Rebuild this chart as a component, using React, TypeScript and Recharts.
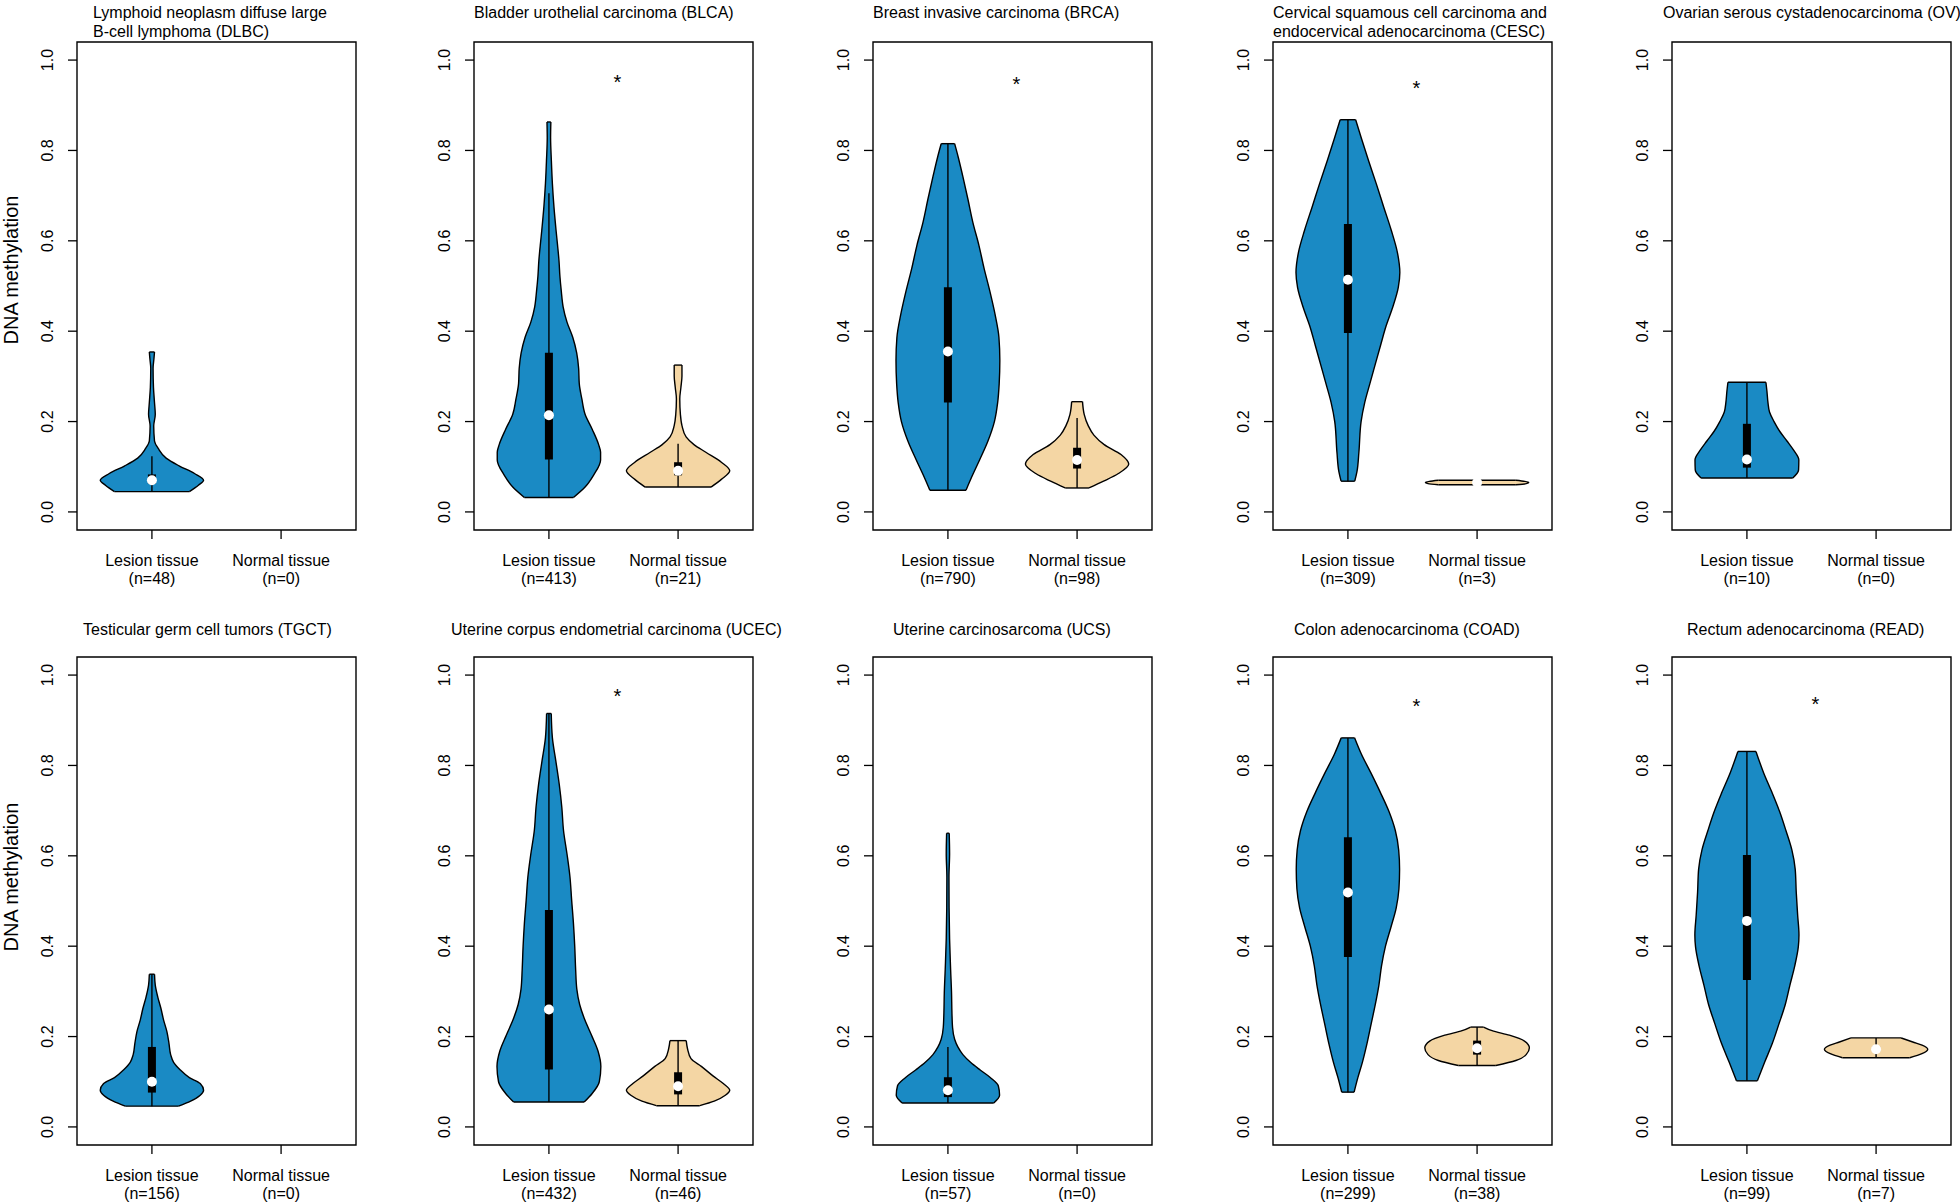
import React from "react";
import {
  ComposedChart,
  Area,
  XAxis,
  YAxis,
  ReferenceLine,
  ReferenceDot,
  ReferenceArea,
} from "recharts";

const FONT = "'Liberation Sans', Arial, Helvetica, sans-serif";
const LESION_FILL = "#1a8ac4";
const NORMAL_FILL = "#f4d6a4";

const groupNames = ["Lesion tissue", "Normal tissue"];
const yTicks = [0, 0.2, 0.4, 0.6, 0.8, 1];

const titles = [
  ["Lymphoid neoplasm diffuse large", "B-cell lymphoma (DLBC)"],
  ["Bladder urothelial carcinoma (BLCA)"],
  ["Breast invasive carcinoma (BRCA)"],
  ["Cervical squamous cell carcinoma and", "endocervical adenocarcinoma (CESC)"],
  ["Ovarian serous cystadenocarcinoma (OV)"],
  ["Testicular germ cell tumors (TGCT)"],
  ["Uterine corpus endometrial carcinoma (UCEC)"],
  ["Uterine carcinosarcoma (UCS)"],
  ["Colon adenocarcinoma (COAD)"],
  ["Rectum adenocarcinoma (READ)"],
];
const lesionN = [48, 413, 790, 309, 10, 156, 432, 57, 299, 99];
const normalN = [0, 21, 98, 3, 0, 0, 46, 0, 38, 7];
// y of the "*" marker between the two groups (null = none)
const sigY = [null, 0.96, 0.955, 0.948, null, null, 0.963, null, 0.94, 0.945];

// violin outlines: [methylation value, half width]
const dlbcLesion = [[0.045, 0.29], [0.059, 0.36], [0.07, 0.4], [0.085, 0.33], [0.102, 0.21], [0.119, 0.11], [0.14, 0.05], [0.157, 0.02], [0.19, 0.014], [0.216, 0.026], [0.242, 0.02], [0.276, 0.012], [0.318, 0.009], [0.34, 0.016], [0.354, 0.02]];
const blcaLesion = [[0.032, 0.19], [0.055, 0.28], [0.081, 0.345], [0.115, 0.4], [0.132, 0.4], [0.149, 0.385], [0.183, 0.335], [0.216, 0.28], [0.25, 0.255], [0.284, 0.235], [0.318, 0.23], [0.352, 0.215], [0.386, 0.185], [0.42, 0.14], [0.454, 0.11], [0.488, 0.096], [0.522, 0.085], [0.556, 0.078], [0.59, 0.067], [0.624, 0.055], [0.675, 0.039], [0.726, 0.027], [0.777, 0.019], [0.828, 0.013], [0.863, 0.015]];
const blcaNormal = [[0.055, 0.255], [0.072, 0.335], [0.091, 0.4], [0.11, 0.335], [0.132, 0.215], [0.149, 0.123], [0.166, 0.062], [0.191, 0.03], [0.216, 0.018], [0.25, 0.013], [0.276, 0.022], [0.301, 0.03], [0.325, 0.03]];
const brcaLesion = [[0.048, 0.14], [0.081, 0.19], [0.115, 0.245], [0.157, 0.31], [0.2, 0.36], [0.242, 0.385], [0.284, 0.397], [0.335, 0.402], [0.386, 0.395], [0.437, 0.365], [0.488, 0.325], [0.539, 0.28], [0.59, 0.24], [0.641, 0.193], [0.692, 0.155], [0.743, 0.115], [0.785, 0.08], [0.815, 0.052]];
const brcaNormal = [[0.053, 0.092], [0.068, 0.205], [0.085, 0.32], [0.106, 0.4], [0.127, 0.34], [0.149, 0.21], [0.17, 0.13], [0.191, 0.086], [0.216, 0.055], [0.244, 0.042]];
const cescLesion = [[0.068, 0.053], [0.089, 0.07], [0.132, 0.085], [0.2, 0.102], [0.242, 0.13], [0.284, 0.17], [0.327, 0.212], [0.369, 0.253], [0.412, 0.296], [0.454, 0.348], [0.497, 0.39], [0.53, 0.402], [0.573, 0.384], [0.624, 0.335], [0.675, 0.277], [0.726, 0.22], [0.777, 0.16], [0.828, 0.103], [0.868, 0.06]];
const cescNormal = [[0.06, 0.3], [0.0625, 0.38], [0.065, 0.4], [0.0675, 0.37], [0.07, 0.3]];
const ovLesion = [[0.075, 0.355], [0.093, 0.4], [0.115, 0.402], [0.136, 0.363], [0.157, 0.31], [0.178, 0.255], [0.2, 0.21], [0.221, 0.175], [0.242, 0.163], [0.267, 0.155], [0.287, 0.147]];
const tgctLesion = [[0.046, 0.206], [0.057, 0.3], [0.07, 0.374], [0.081, 0.4], [0.096, 0.374], [0.109, 0.29], [0.126, 0.22], [0.143, 0.168], [0.16, 0.145], [0.185, 0.132], [0.211, 0.116], [0.237, 0.09], [0.262, 0.07], [0.288, 0.045], [0.314, 0.026], [0.338, 0.02]];
const ucecLesion = [[0.055, 0.273], [0.074, 0.335], [0.1, 0.39], [0.134, 0.402], [0.168, 0.38], [0.203, 0.33], [0.237, 0.278], [0.271, 0.238], [0.305, 0.216], [0.348, 0.207], [0.399, 0.2], [0.45, 0.19], [0.502, 0.176], [0.553, 0.163], [0.604, 0.14], [0.656, 0.113], [0.707, 0.1], [0.758, 0.08], [0.809, 0.054], [0.861, 0.027], [0.915, 0.018]];
const ucecNormal = [[0.047, 0.168], [0.057, 0.28], [0.07, 0.366], [0.081, 0.4], [0.096, 0.35], [0.113, 0.27], [0.134, 0.18], [0.151, 0.1], [0.173, 0.073], [0.191, 0.063]];
const ucsLesion = [[0.053, 0.355], [0.07, 0.4], [0.091, 0.39], [0.109, 0.33], [0.126, 0.25], [0.143, 0.175], [0.16, 0.116], [0.177, 0.077], [0.194, 0.052], [0.22, 0.036], [0.254, 0.031], [0.297, 0.028], [0.348, 0.021], [0.416, 0.013], [0.485, 0.009], [0.553, 0.008], [0.604, 0.013], [0.65, 0.01]];
const coadLesion = [[0.077, 0.048], [0.109, 0.077], [0.143, 0.112], [0.185, 0.148], [0.228, 0.18], [0.271, 0.212], [0.314, 0.24], [0.356, 0.26], [0.399, 0.29], [0.442, 0.333], [0.485, 0.374], [0.527, 0.395], [0.57, 0.4], [0.613, 0.393], [0.656, 0.367], [0.698, 0.318], [0.741, 0.25], [0.784, 0.177], [0.826, 0.103], [0.861, 0.052]];
const coadNormal = [[0.136, 0.145], [0.147, 0.3], [0.16, 0.38], [0.175, 0.405], [0.19, 0.367], [0.203, 0.25], [0.213, 0.116], [0.221, 0.05]];
const readLesion = [[0.102, 0.081], [0.143, 0.137], [0.185, 0.197], [0.228, 0.248], [0.271, 0.297], [0.314, 0.333], [0.356, 0.37], [0.399, 0.398], [0.425, 0.403], [0.468, 0.393], [0.519, 0.382], [0.57, 0.374], [0.613, 0.348], [0.656, 0.302], [0.698, 0.253], [0.741, 0.193], [0.784, 0.129], [0.831, 0.07]];
const readNormal = [[0.153, 0.26], [0.162, 0.355], [0.172, 0.4], [0.181, 0.356], [0.188, 0.284], [0.197, 0.194]];

// box stats: [whisker low, q1, median, q3, whisker high]
const dlbcLesionBox = [0.045, 0.062, 0.07, 0.083, 0.123];
const blcaLesionBox = [0.032, 0.116, 0.214, 0.352, 0.705];
const blcaNormalBox = [0.055, 0.081, 0.091, 0.11, 0.151];
const brcaLesionBox = [0.048, 0.242, 0.355, 0.497, 0.815];
const brcaNormalBox = [0.053, 0.096, 0.115, 0.142, 0.208];
const cescLesionBox = [0.068, 0.396, 0.514, 0.637, 0.868];
const cescNormalBox = [0.06, 0.062, 0.065, 0.068, 0.07];
const ovLesionBox = [0.075, 0.098, 0.116, 0.195, 0.287];
const tgctLesionBox = [0.046, 0.076, 0.1, 0.177, 0.338];
const ucecLesionBox = [0.055, 0.127, 0.26, 0.48, 0.915];
const ucecNormalBox = [0.047, 0.072, 0.09, 0.121, 0.191];
const ucsLesionBox = [0.053, 0.066, 0.081, 0.11, 0.177];
const coadLesionBox = [0.077, 0.376, 0.519, 0.641, 0.861];
const coadNormalBox = [0.136, 0.16, 0.174, 0.191, 0.221];
const readLesionBox = [0.102, 0.325, 0.456, 0.602, 0.831];
const readNormalBox = [0.153, 0.166, 0.172, 0.178, 0.197];

const lesionShapes = [dlbcLesion, blcaLesion, brcaLesion, cescLesion, ovLesion, tgctLesion, ucecLesion, ucsLesion, coadLesion, readLesion];
const lesionBoxes = [dlbcLesionBox, blcaLesionBox, brcaLesionBox, cescLesionBox, ovLesionBox, tgctLesionBox, ucecLesionBox, ucsLesionBox, coadLesionBox, readLesionBox];
const normalShapes = [null, blcaNormal, brcaNormal, cescNormal, null, null, ucecNormal, null, coadNormal, readNormal];
const normalBoxes = [null, blcaNormalBox, brcaNormalBox, cescNormalBox, null, null, ucecNormalBox, null, coadNormalBox, readNormalBox];

// layout
const boxLeft = [77, 474, 873, 1273, 1672];
const boxTop = [42, 657];
const titleX = [93, 474, 873, 1273, 1663, 83, 451, 893, 1294, 1687];
const BOX_W = 279;
const BOX_H = 488;
const PAD_L = 70;
const PAD_T = 20;
const PAD_R = 10;
const X_AXIS_H = 57;
const X_DOMAIN: [number, number] = [0.42, 2.58];
const Y_DOMAIN: [number, number] = [-0.04, 1.04];

const YTick = (props: any) => {
  const { x, y, payload } = props;
  const bx = x - 15;
  return (
    <text
      x={bx}
      y={y}
      transform={`rotate(-90, ${bx}, ${y})`}
      textAnchor="middle"
      fontSize={16}
      fontFamily={FONT}
      fill="#000"
    >
      {Number(payload.value).toFixed(1)}
    </text>
  );
};

const makeXTick = (idx: number) => (props: any) => {
  const { x, y, payload } = props;
  const g = payload.value === 1 ? 0 : 1;
  const n = g === 0 ? lesionN[idx] : normalN[idx];
  return (
    <g>
      <text x={x} y={y + 27} textAnchor="middle" fontSize={16} fontFamily={FONT} fill="#000">
        {groupNames[g]}
      </text>
      <text x={x} y={y + 45} textAnchor="middle" fontSize={16} fontFamily={FONT} fill="#000">
        {`(n=${n})`}
      </text>
    </g>
  );
};

const renderViolin = (key: string, shape: number[][], box: number[], pos: number, fill: string) => {
  const rows = shape.map(([y, w]) => ({ y, band: [pos - w, pos + w] }));
  const first = shape[0];
  const last = shape[shape.length - 1];
  const [lo, q1, med, q3, hi] = box;
  return [
    <Area
      key={`${key}-area`}
      data={rows}
      dataKey="band"
      type="monotone"
      fill={fill}
      fillOpacity={1}
      stroke="#000"
      strokeWidth={1.4}
      dot={false}
      activeDot={false}
      isAnimationActive={false}
    />,
    <ReferenceLine
      key={`${key}-bottom`}
      segment={[{ x: pos - first[1], y: first[0] }, { x: pos + first[1], y: first[0] }]}
      stroke="#000"
      strokeWidth={1.4}
    />,
    <ReferenceLine
      key={`${key}-top`}
      segment={[{ x: pos - last[1], y: last[0] }, { x: pos + last[1], y: last[0] }]}
      stroke="#000"
      strokeWidth={1.4}
    />,
    <ReferenceLine
      key={`${key}-whisker`}
      segment={[{ x: pos, y: lo }, { x: pos, y: hi }]}
      stroke="#000"
      strokeWidth={1.4}
    />,
    <ReferenceLine
      key={`${key}-box`}
      segment={[{ x: pos, y: q1 }, { x: pos, y: q3 }]}
      stroke="#000"
      strokeWidth={8}
    />,
    <ReferenceDot key={`${key}-med`} x={pos} y={med} r={5} fill="#fff" stroke="none" />,
  ];
};

const Panel = ({ idx }: { idx: number }) => {
  const col = idx % 5;
  const row = Math.floor(idx / 5);
  const sig = sigY[idx];
  const normalShape = normalShapes[idx];
  const normalBox = normalBoxes[idx];
  return (
    <div style={{ position: "absolute", left: boxLeft[col] - PAD_L, top: boxTop[row] - PAD_T }}>
      <ComposedChart
        layout="vertical"
        width={PAD_L + BOX_W + PAD_R}
        height={PAD_T + BOX_H + X_AXIS_H}
        margin={{ top: PAD_T, right: PAD_R, bottom: 0, left: 10 }}
      >
        <XAxis
          type="number"
          domain={X_DOMAIN}
          ticks={[1, 2]}
          interval={0}
          allowDataOverflow
          height={X_AXIS_H}
          tickSize={9}
          tickMargin={0}
          axisLine={false}
          tickLine={{ stroke: "#000", strokeWidth: 1.3 }}
          tick={makeXTick(idx)}
        />
        <YAxis
          type="number"
          dataKey="y"
          domain={Y_DOMAIN}
          ticks={yTicks}
          interval={0}
          allowDataOverflow
          reversed
          width={60}
          tickSize={9}
          tickMargin={0}
          axisLine={false}
          tickLine={{ stroke: "#000", strokeWidth: 1.3 }}
          tick={<YTick />}
        />
        <ReferenceArea
          x1={X_DOMAIN[0]}
          x2={X_DOMAIN[1]}
          y1={Y_DOMAIN[0]}
          y2={Y_DOMAIN[1]}
          fill="none"
          fillOpacity={0}
          stroke="#000"
          strokeWidth={1.4}
        />
        {renderViolin(`l${idx}`, lesionShapes[idx], lesionBoxes[idx], 1, LESION_FILL)}
        {normalShape && normalBox ? renderViolin(`n${idx}`, normalShape, normalBox, 2, NORMAL_FILL) : null}
        {sig != null ? (
          <ReferenceDot
            x={1.53}
            y={sig}
            r={0}
            shape={(p: any) => (
              <text x={p.cx} y={p.cy + 11} textAnchor="middle" fontSize={20} fontFamily={FONT} fill="#000">
                *
              </text>
            )}
          />
        ) : null}
      </ComposedChart>
    </div>
  );
};

export default function App() {
  return (
    <div
      style={{
        position: "absolute",
        left: 0,
        top: 0,
        width: 1960,
        height: 1204,
        overflow: "hidden",
        background: "#fff",
        fontFamily: FONT,
      }}
    >
      <svg width={1960} height={1204} style={{ position: "absolute", left: 0, top: 0 }}>
        {titles.map((lines, i) => {
          const row = Math.floor(i / 5);
          const base = row === 0 ? 18 : 634.5;
          return lines.map((line, j) => (
            <text
              key={`t${i}-${j}`}
              x={titleX[i]}
              y={base + j * 19}
              fontSize={16}
              fontFamily={FONT}
              fill="#000"
            >
              {line}
            </text>
          ));
        })}
        {[270, 877].map((cy, i) => (
          <text
            key={`yl${i}`}
            x={18}
            y={cy}
            transform={`rotate(-90, 18, ${cy})`}
            textAnchor="middle"
            fontSize={20}
            fontFamily={FONT}
            fill="#000"
          >
            DNA methylation
          </text>
        ))}
      </svg>
      {titles.map((_, i) => (
        <Panel key={i} idx={i} />
      ))}
    </div>
  );
}
